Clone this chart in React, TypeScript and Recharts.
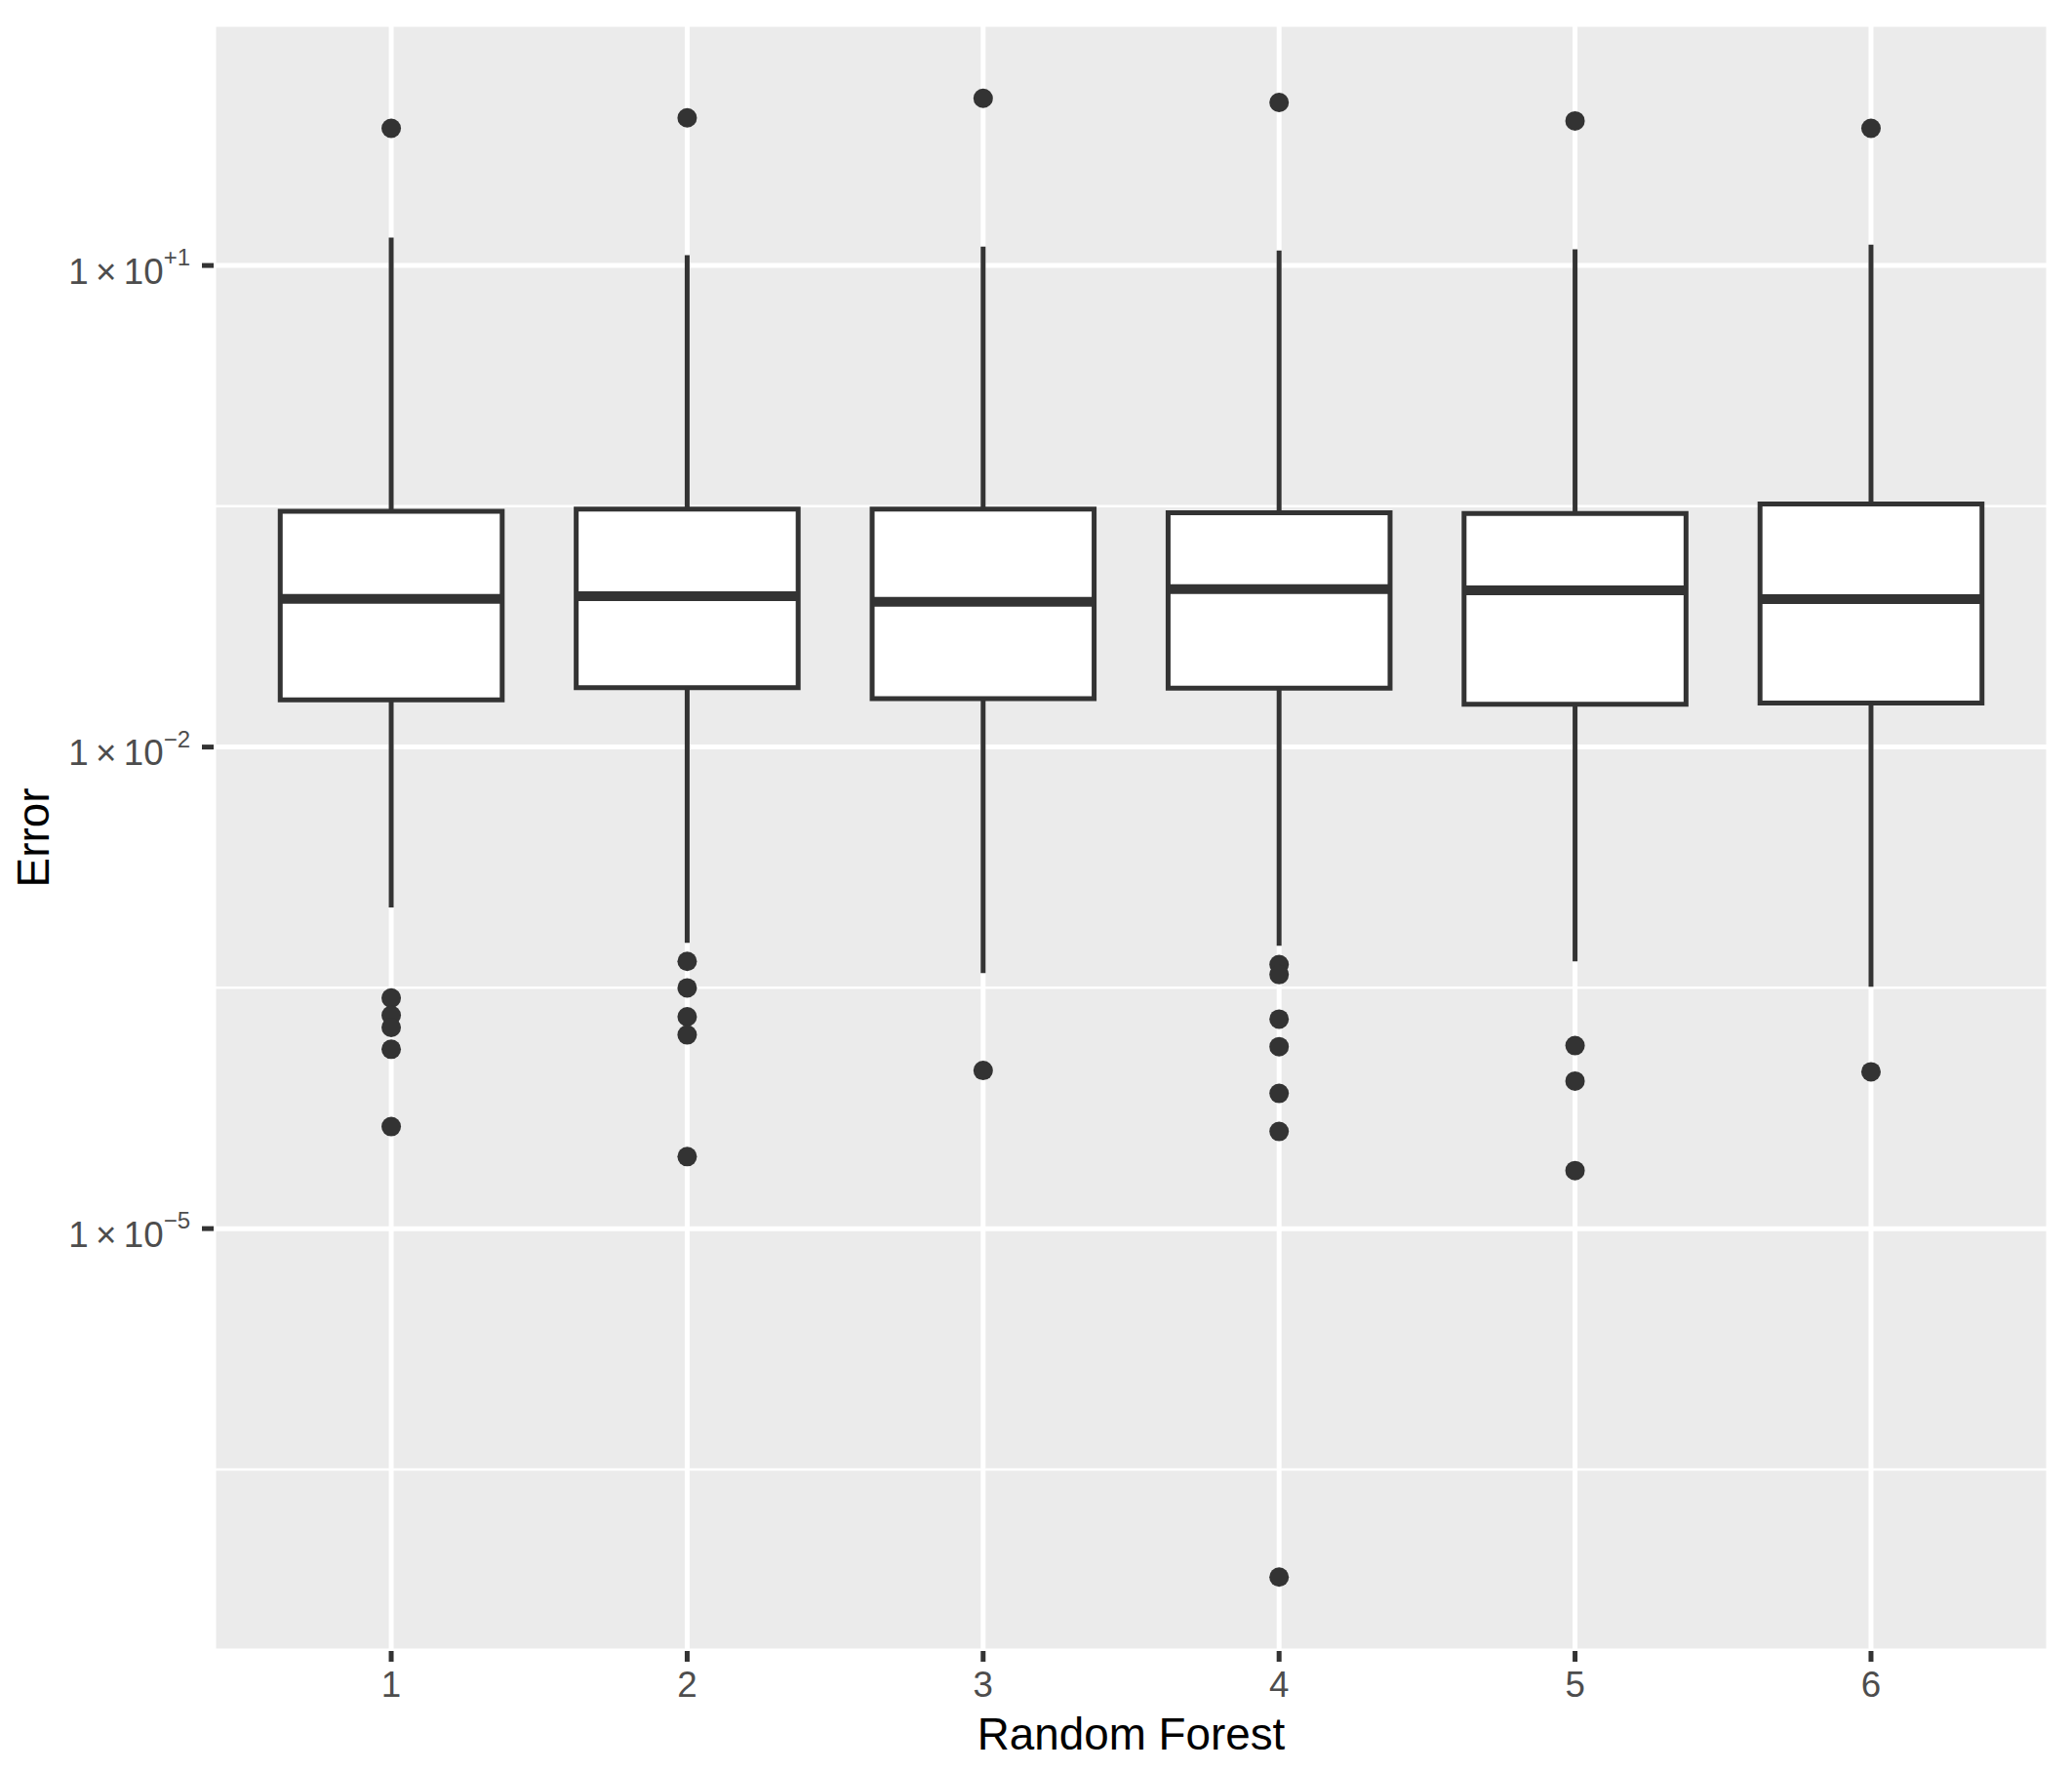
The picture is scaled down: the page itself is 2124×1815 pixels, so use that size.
import React from "react";
import {
  ComposedChart,
  CartesianGrid,
  XAxis,
  YAxis,
  Scatter,
  ReferenceArea,
  ReferenceLine,
} from "recharts";

// box statistics per forest
const categories = [1, 2, 3, 4, 5, 6];
const whiskerHigh = [14.9, 11.6, 13.1, 12.4, 12.6, 13.5];
const upperQuartile = [0.294, 0.304, 0.304, 0.288, 0.285, 0.327];
const medians = [0.0839, 0.0871, 0.0802, 0.0962, 0.0947, 0.0836];
const lowerQuartile = [0.0197, 0.0234, 0.02, 0.0233, 0.0185, 0.0188];
const whiskerLow = [1.0e-3, 6.04e-4, 3.91e-4, 5.79e-4, 4.62e-4, 3.21e-4];
const outliers = [
  [71.6, 2.73e-4, 2.13e-4, 1.79e-4, 1.31e-4, 4.32e-5],
  [83.2, 4.62e-4, 3.16e-4, 2.09e-4, 1.61e-4, 2.81e-5],
  [110, 9.66e-5],
  [103.7, 4.42e-4, 3.82e-4, 2.02e-4, 1.36e-4, 6.95e-5, 4.03e-5, 6.75e-8],
  [79.6, 1.38e-4, 8.3e-5, 2.3e-5],
  [71.6, 9.48e-5],
];
const majorTicks = [1e-5, 1e-2, 1e1];
const minorTicks = [10 ** -6.5, 10 ** -3.5, 10 ** -0.5];

const outlierPoints = outliers.flatMap((vals, i) =>
  vals.map((y) => ({ x: categories[i], y }))
);

// ggplot-like 5% expansion in log space
const allValues = [...whiskerHigh, ...whiskerLow, ...outliers.flat()];
const logMin = Math.log10(Math.min(...allValues));
const logMax = Math.log10(Math.max(...allValues));
const pad = (logMax - logMin) * 0.05;
const yDomain = [10 ** (logMin - pad), 10 ** (logMax + pad)];

const FONT = "'Liberation Sans', Arial, sans-serif";
const INK = "#333333";
const BOX_HALF = 0.375;

const XTick = (props: any) => {
  const { x, y, payload } = props;
  return (
    <text x={x} y={y + 27} textAnchor="middle" fill="#4D4D4D" fontSize={36.7} fontFamily={FONT}>
      {payload.value}
    </text>
  );
};

const YTick = (props: any) => {
  const { x, y, payload } = props;
  const exp = Math.round(Math.log10(payload.value));
  const sup = exp > 0 ? `+${exp}` : `\u2212${Math.abs(exp)}`;
  return (
    <text x={x} y={y + 18.5} textAnchor="end" fill="#4D4D4D" fontSize={36.7} fontFamily={FONT}>
      <tspan>{"1\u2009\u00d7\u200910"}</tspan>
      <tspan dy={-18.5} fontSize={24}>
        {sup}
      </tspan>
    </text>
  );
};

const XTitle = (props: any) => {
  const vb = props.viewBox || { x: 219, y: 1692, width: 1881, height: 123 };
  return (
    <text x={vb.x + vb.width / 2} y={vb.y + 101} textAnchor="middle" fill="#000000" fontSize={45.8} fontFamily={FONT}>
      Random Forest
    </text>
  );
};

const YTitle = (props: any) => {
  const vb = props.viewBox || { x: 0, y: 25, width: 219, height: 1667 };
  const cy = vb.y + vb.height / 2;
  return (
    <text
      x={50}
      y={cy}
      transform={`rotate(-90, 50, ${cy})`}
      textAnchor="middle"
      fill="#000000"
      fontSize={45.8}
      fontFamily={FONT}
    >
      Error
    </text>
  );
};

export default function App() {
  return (
    <div style={{ position: "absolute", left: 0, top: 0, width: 2124, height: 1815, background: "#FFFFFF" }}>
      <ComposedChart width={2124} height={1815} margin={{ top: 25, right: 24, bottom: 0, left: 0 }}>
        <CartesianGrid fill="#EBEBEB" stroke="#FFFFFF" strokeWidth={5} />
        <CartesianGrid yAxisId="minor" vertical={false} fill="none" stroke="#FFFFFF" strokeWidth={2.5} />
        <XAxis
          type="number"
          dataKey="x"
          domain={[0.4, 6.6]}
          allowDataOverflow
          ticks={categories}
          interval={0}
          height={123}
          axisLine={false}
          tickLine={{ stroke: INK, strokeWidth: 5 }}
          tickSize={11}
          tickMargin={9}
          tick={<XTick />}
          label={XTitle}
        />
        <YAxis
          type="number"
          dataKey="y"
          scale="log"
          domain={yDomain}
          allowDataOverflow
          ticks={majorTicks}
          interval={0}
          width={219}
          axisLine={false}
          tickLine={{ stroke: INK, strokeWidth: 5 }}
          tickSize={12}
          tickMargin={12}
          tick={<YTick />}
          label={YTitle}
        />
        <YAxis
          yAxisId="minor"
          type="number"
          scale="log"
          domain={yDomain}
          allowDataOverflow
          ticks={minorTicks}
          interval={0}
          width={0}
          hide
        />
        {categories.map((c, i) => (
          <ReferenceLine
            key={`wh-${c}`}
            segment={[
              { x: c, y: upperQuartile[i] },
              { x: c, y: whiskerHigh[i] },
            ]}
            stroke={INK}
            strokeWidth={5}
          />
        ))}
        {categories.map((c, i) => (
          <ReferenceLine
            key={`wl-${c}`}
            segment={[
              { x: c, y: whiskerLow[i] },
              { x: c, y: lowerQuartile[i] },
            ]}
            stroke={INK}
            strokeWidth={5}
          />
        ))}
        {categories.map((c, i) => (
          <ReferenceArea
            key={`box-${c}`}
            x1={c - BOX_HALF}
            x2={c + BOX_HALF}
            y1={lowerQuartile[i]}
            y2={upperQuartile[i]}
            fill="#FFFFFF"
            fillOpacity={1}
            stroke={INK}
            strokeWidth={5}
          />
        ))}
        {categories.map((c, i) => (
          <ReferenceLine
            key={`med-${c}`}
            segment={[
              { x: c - BOX_HALF, y: medians[i] },
              { x: c + BOX_HALF, y: medians[i] },
            ]}
            stroke={INK}
            strokeWidth={10}
          />
        ))}
        <Scatter
          data={outlierPoints}
          dataKey="y"
          isAnimationActive={false}
          shape={(p: any) => <circle cx={p.cx} cy={p.cy} r={10} fill={INK} />}
        />
      </ComposedChart>
    </div>
  );
}
